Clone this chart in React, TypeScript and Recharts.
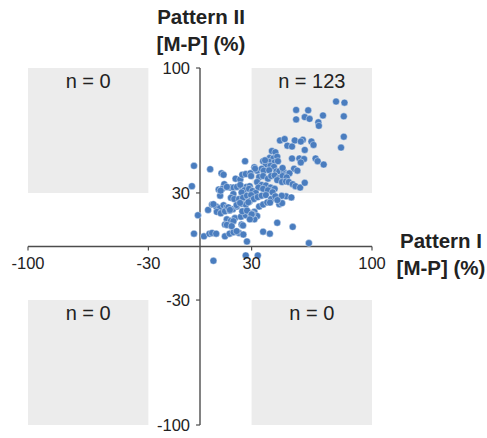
import {
  ScatterChart,
  Scatter,
  XAxis,
  YAxis,
  ReferenceArea,
  ReferenceLine,
  ReferenceDot,
} from "recharts";

// [Pattern I, Pattern II] in %
const samples: [number, number][] = [
  [79.1, 81.2], [84.0, 80.6], [55.9, 76.5], [62.9, 76.3], [55.9, 71.2], [60.9, 72.5],
  [63.7, 71.5], [71.5, 73.4], [83.6, 72.9], [68.8, 69.6], [69.1, 67.6],
  [46.5, 59.4], [49.2, 60.2], [55.1, 59.4], [59.8, 59.8], [50.8, 56.5], [53.5, 56.0],
  [60.9, 54.1], [64.8, 58.8], [66.0, 56.9], [83.6, 61.5], [82.0, 55.4], [41.8, 53.5],
  [43.8, 52.8], [58.6, 58.8],
  [26.2, 47.8], [36.7, 47.8], [40.6, 49.7], [42.6, 49.3], [44.9, 50.3], [40.2, 47.4],
  [43.4, 47.1], [45.3, 47.8], [38.3, 45.9], [41.0, 45.2], [43.0, 44.6], [67.2, 49.3],
  [68.4, 47.8], [71.9, 45.9], [57.8, 49.3], [60.5, 49.0], [53.5, 49.3], [58.6, 47.1],
  [31.6, 44.4], [33.2, 42.5], [35.9, 43.6], [37.1, 42.5], [40.2, 42.7], [44.5, 42.1],
  [46.1, 42.1], [48.8, 41.7], [54.7, 43.6], [56.6, 42.5], [51.2, 40.6], [-3.5, 45.2],
  [5.9, 43.3], [12.5, 41.0], [13.7, 40.2], [37.8, 48.3], [32.0, 43.6], [48.0, 44.0],
  [52.0, 41.0],
  [-4.7, 33.8], [20.7, 38.0], [23.4, 37.6], [24.6, 40.2], [26.6, 40.6], [29.3, 41.0],
  [29.7, 39.5], [14.1, 34.9], [17.6, 33.0], [19.5, 33.0], [21.5, 33.4], [24.6, 33.0],
  [27.0, 33.4], [28.9, 33.8], [10.9, 31.9], [12.9, 32.3], [15.6, 33.4], [34.4, 38.9],
  [36.7, 39.5], [39.5, 38.0], [41.4, 39.5], [43.4, 39.8], [46.1, 38.3], [48.0, 39.5],
  [50.4, 38.7], [44.9, 37.2], [47.7, 36.1], [50.0, 36.4], [51.6, 36.1], [53.9, 34.9],
  [55.5, 33.8], [58.2, 33.0], [60.9, 35.7], [33.2, 36.1], [35.9, 34.5], [38.3, 34.2],
  [41.0, 33.0], [43.4, 32.3], [34.0, 33.0], [36.7, 32.3], [39.5, 31.5], [42.2, 30.4],
  [23.4, 34.5], [25.8, 31.5], [28.5, 32.3], [30.5, 31.1], [32.4, 30.0], [11.7, 28.5],
  [12.0, 31.3], [19.4, 29.4], [24.2, 30.3],
  [4.7, 20.5], [-1.2, 17.5], [7.0, 23.5], [9.4, 22.4], [11.7, 21.6], [13.7, 23.1],
  [15.6, 22.0], [18.0, 27.3], [19.9, 26.6], [22.7, 26.6], [25.0, 27.3], [27.3, 28.5],
  [29.7, 28.8], [9.8, 19.4], [12.1, 18.6], [14.5, 19.7], [17.2, 20.1], [19.1, 20.9],
  [21.5, 22.4], [24.2, 23.9], [26.6, 23.5], [28.9, 25.4], [31.3, 26.6], [33.6, 27.7],
  [35.9, 28.5], [38.3, 28.8], [34.4, 22.4], [36.7, 23.5], [39.1, 24.7], [41.4, 26.6],
  [43.8, 28.1], [46.1, 23.7], [47.7, 24.3], [50.0, 28.1], [53.1, 27.5], [15.6, 15.2],
  [18.0, 14.4], [20.3, 15.9], [23.8, 16.7], [26.6, 17.5], [29.3, 18.6], [31.6, 19.4],
  [33.2, 17.1], [31.6, 15.2], [30.5, 18.2], [24.6, 19.7], [27.3, 20.1], [44.9, 13.3],
  [53.9, 11.0], [7.8, 23.7], [16.5, 21.9], [21.3, 23.2], [23.3, 24.4], [28.1, 24.8],
  [17.4, 20.5], [19.4, 14.2], [14.5, 12.3], [24.2, 12.3], [47.5, 28.4], [40.7, 24.6],
  [45.0, 26.0], [30.0, 18.0], [29.0, 15.2],
  [-3.5, 7.2], [2.3, 5.7], [5.5, 7.2], [7.0, 7.6], [9.4, 7.2], [14.5, 5.7],
  [17.2, 7.2], [19.5, 8.0], [22.7, 7.6], [25.0, 11.8], [27.3, 2.8], [36.7, 8.3],
  [40.6, 7.2], [63.3, 1.9], [15.6, 12.1], [18.4, 11.4], [21.3, 8.6], [25.2, 6.7],
  [7.8, -8.0], [26.6, -5.0], [33.6, -5.0],
];

const axisTicks = [-100, -30, 30, 100];

// quadrant boxes: [x1, x2, y1, y2, count]
const quadrants: [number, number, number, number, number][] = [
  [-100, -30, 30, 100, 0],
  [30, 100, 30, 100, 123],
  [-100, -30, -100, -30, 0],
  [30, 100, -100, -30, 0],
];

const data = samples.map(([x, y]) => ({ x, y }));

const font = "'Liberation Sans', Arial, sans-serif";
const axisColor = "#4d4d4d";

const Dot = (props: any) => (
  <circle cx={props.cx} cy={props.cy} r={3.5} fill="#4a7dbf" stroke="#ffffff" strokeWidth={0.4} />
);

export default function App() {
  return (
    <div style={{ position: "absolute", left: 0, top: 0, width: 487, height: 438, fontFamily: font }}>
      <ScatterChart
        width={487}
        height={438}
        margin={{ top: 68, right: 115, bottom: 13, left: 28 }}
        style={{ fontFamily: font }}
      >
        <XAxis type="number" dataKey="x" domain={[-100, 100]} hide />
        <YAxis type="number" dataKey="y" domain={[-100, 100]} hide />
        {quadrants.map(([x1, x2, y1, y2, n], i) => (
          <ReferenceArea
            key={"q" + i}
            x1={x1}
            x2={x2}
            y1={y1}
            y2={y2}
            fill="#ececec"
            fillOpacity={1}
            stroke="none"
            label={{ value: `n = ${n}`, position: "insideTop", offset: 6, fill: "#222", fontSize: 20 }}
          />
        ))}
        <ReferenceLine y={0} stroke={axisColor} strokeWidth={1.4} />
        <ReferenceLine x={0} stroke={axisColor} strokeWidth={1.4} />
        {axisTicks.map((t) => (
          <ReferenceLine
            key={"xt" + t}
            segment={[{ x: t, y: 0 }, { x: t, y: -2.3 }]}
            stroke={axisColor}
            strokeWidth={1.2}
          />
        ))}
        {axisTicks.map((t) => (
          <ReferenceLine
            key={"yt" + t}
            segment={[{ x: 0, y: t }, { x: -2.3, y: t }]}
            stroke={axisColor}
            strokeWidth={1.2}
          />
        ))}
        {axisTicks.map((t) => (
          <ReferenceDot
            key={"xl" + t}
            x={t}
            y={0}
            r={0}
            stroke="none"
            fill="none"
            label={{ value: String(t), position: "bottom", offset: 11, fill: "#222", fontSize: 16.5 }}
          />
        ))}
        {axisTicks.map((t) => (
          <ReferenceDot
            key={"yl" + t}
            x={0}
            y={t}
            r={0}
            stroke="none"
            fill="none"
            label={{ value: String(t), position: "left", offset: 10, fill: "#222", fontSize: 16.5 }}
          />
        ))}
        <Scatter data={data} shape={Dot} isAnimationActive={false} />
      </ScatterChart>
      <div
        style={{
          position: "absolute",
          left: 131,
          top: 3,
          width: 140,
          textAlign: "center",
          fontWeight: "bold",
          fontSize: 20.5,
          lineHeight: "27px",
          color: "#222",
        }}
      >
        Pattern II
        <br />
        [M-P] (%)
      </div>
      <div
        style={{
          position: "absolute",
          left: 391,
          top: 227,
          width: 100,
          textAlign: "center",
          fontWeight: "bold",
          fontSize: 20.5,
          lineHeight: "27px",
          color: "#222",
        }}
      >
        Pattern I
        <br />
        [M-P] (%)
      </div>
    </div>
  );
}
